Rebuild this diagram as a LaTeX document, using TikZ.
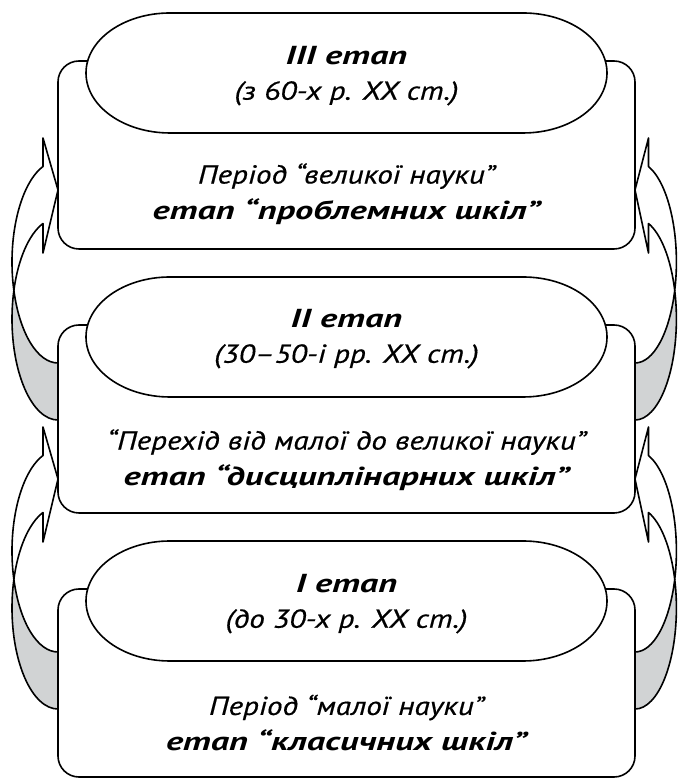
\documentclass[tikz,border=0pt]{standalone}
\usepackage{fontspec}
\setmainfont{PT Sans}[ItalicFeatures={FakeStretch=1.2, FakeBold=0.5}, BoldItalicFeatures={FakeStretch=1.4}]
\definecolor{backgrey}{RGB}{209,211,212}
\newcommand{\stagebf}{\bfseries}
\tikzset{
  outline/.style  = {draw=black, line width=1.6pt, line join=round},
  stagebox/.style = {shape=rectangle, rounded corners=21pt, outline,
                     fill=white, minimum width=577pt, minimum height=188pt},
  captext/.style  = {align=center, font=\fontsize{26}{35}\selectfont\itshape},
  boxtext/.style  = {align=center, font=\fontsize{26}{36}\selectfont\itshape},
  stagecap/.pic   = {
    \path[outline, fill=white] (-176.5,60) -- (176.5,60)
      arc[start angle=90, end angle=-90, x radius=84, y radius=60]
      -- (-176.5,-60)
      arc[start angle=270, end angle=90, x radius=84, y radius=60] -- cycle;
  },
  turnarrow/.pic  = {
    % back of the band
    \path[outline, fill=backgrey] (0,57)
      arc[start angle=270, end angle=196.4, x radius=46, y radius=101]
      arc[start angle=163.6, end angle=270, x radius=46, y radius=101] -- cycle;
    % front of the band and head
    \path[outline, fill=white] ({46*cos(196.4)},129.5)
      arc[start angle=196.4, end angle=109, x radius=46, y radius=101]
      -- (-15,282) -- (0,230) -- (-15,167) -- (-15,196.5)
      arc[start angle=109, end angle=163.6, x radius=46, y radius=101] -- cycle;
  }
}
\begin{document}
\begin{tikzpicture}[x=1pt, y=1pt]
  \useasboundingbox (0,0) rectangle (677,778);

  \node[stagebox] (st3) at (346.5,623) {};
  \node[stagebox] (st2) at (346.5,359) {};
  \node[stagebox] (st1) at (346.5,95) {};

  \pic at (58,358) {turnarrow};
  \pic at (58,69) {turnarrow};
  \pic[xscale=-0.9] at (635,358) {turnarrow};
  \pic[xscale=-0.9] at (635,69) {turnarrow};

  \pic at (346.5,705) {stagecap};
  \pic at (346.5,441) {stagecap};
  \pic at (346.5,177) {stagecap};

  \node[captext] (cap3) at (346.5,702) {{\stagebf III етап}\\(з 60-х р. ХХ ст.)};
  \node[boxtext] (txt3) at (346.5,584) {Період “великої науки”\\{\stagebf етап “проблемних шкіл”}};

  \node[captext] (cap2) at (346.5,439) {{\stagebf II етап}\\(30–50-і рр. ХХ ст.)};
  \node[boxtext] (txt2) at (346.5,318) {“Перехід від малої до великої науки”\\{\stagebf етап “дисциплінарних шкіл”}};

  \node[captext] (cap1) at (346.5,174) {{\stagebf I етап}\\(до 30-х р. ХХ ст.)};
  \node[boxtext] (txt1) at (346.5,55) {Період “малої науки”\\{\stagebf етап “класичних шкіл”}};
\end{tikzpicture}
\end{document}
